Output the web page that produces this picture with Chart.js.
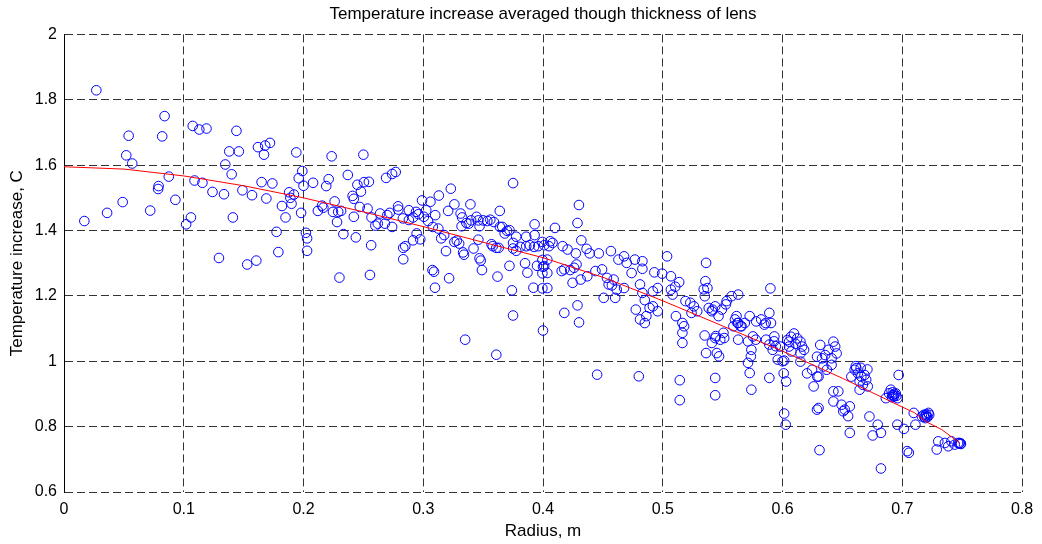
<!DOCTYPE html>
<html>
<head>
<meta charset="utf-8">
<script src="https://cdn.jsdelivr.net/npm/chart.js@4/dist/chart.umd.min.js"></script>
<style>
  body { margin: 0; background: #fff; }
  canvas { display: block; }
</style>
</head>
<body>
<canvas id="lensChart" width="1042" height="544"></canvas>
<script>
// Axis tick labels
const xTickLabels = ['0', '0.1', '0.2', '0.3', '0.4', '0.5', '0.6', '0.7', '0.8'];
const yTickLabels = ['0.6', '0.8', '1', '1.2', '1.4', '1.6', '1.8', '2'];

// Fitted curve (red line)
const fitRadius = [0, 0.05, 0.1, 0.15, 0.2, 0.25, 0.3, 0.35, 0.4, 0.45, 0.5, 0.55, 0.6, 0.65, 0.7, 0.71, 0.72, 0.733, 0.748];
const fitTemp = [1.595, 1.588, 1.567, 1.537, 1.5, 1.457, 1.412, 1.364, 1.317, 1.257, 1.185, 1.108, 1.031, 0.948, 0.86, 0.843, 0.815, 0.791, 0.75];

// Scatter samples: radius (m)
const radius = [
  0.027, 0.084, 0.054, 0.082, 0.1075, 0.113, 0.119, 0.144, 0.052, 0.057, 0.0875, 0.079, 0.0786, 0.093, 0.049, 0.036, 0.017, 0.072, 0.102, 0.106,
  0.109, 0.1156, 0.124, 0.1336, 0.1347, 0.140, 0.138, 0.146, 0.141, 0.149, 0.157, 0.165, 0.174, 0.169, 0.162, 0.167, 0.168, 0.172, 0.194, 0.199,
  0.196, 0.2, 0.188, 0.189, 0.19, 0.192, 0.182, 0.185, 0.198, 0.1775, 0.179, 0.202, 0.203, 0.203, 0.1294, 0.153, 0.1606,
  0.2235, 0.250, 0.208, 0.221, 0.219, 0.237, 0.245, 0.2505, 0.2546, 0.248, 0.241, 0.242, 0.269, 0.274, 0.277,
  0.212, 0.2155, 0.2166, 0.226, 0.2246, 0.229, 0.2314, 0.228, 0.242, 0.247, 0.2535, 0.2568, 0.26, 0.262, 0.264, 0.268, 0.270, 0.272, 0.274, 0.279,
  0.2792, 0.283, 0.288, 0.288, 0.2915, 0.294, 0.296, 0.299, 0.306, 0.313, 0.323,
  0.3025, 0.3005, 0.304, 0.308, 0.310, 0.3126, 0.3175, 0.315, 0.3208, 0.326, 0.3312, 0.3325, 0.332, 0.3394, 0.336, 0.338, 0.340, 0.3445, 0.346, 0.350,
  0.3535, 0.356, 0.347, 0.359, 0.3639, 0.364, 0.366, 0.368, 0.370, 0.372, 0.375, 0.3776, 0.375, 0.386, 0.393, 0.393, 0.3995, 0.401, 0.381, 0.386,
  0.389, 0.3925, 0.396, 0.3776, 0.375, 0.361, 0.363, 0.357, 0.358, 0.372, 0.385, 0.387, 0.395, 0.3995, 0.4, 0.3995, 0.392, 0.3995, 0.374, 0.362,
  0.375, 0.4, 0.335, 0.361,
  0.2333, 0.2437, 0.2565, 0.23, 0.2555, 0.2833, 0.285, 0.2833, 0.2915, 0.2945, 0.2975, 0.3077, 0.309, 0.3098, 0.3216, 0.319, 0.326, 0.328, 0.330, 0.3333,
  0.334, 0.342, 0.346, 0.347, 0.348, 0.349,
  0.430, 0.4288, 0.410, 0.406, 0.405, 0.408, 0.4164, 0.4205, 0.4274, 0.432, 0.4364, 0.439, 0.4466, 0.4567, 0.4036, 0.401, 0.4036, 0.4156, 0.4178, 0.4227,
  0.426, 0.428, 0.4247, 0.4315, 0.437, 0.4438, 0.4036, 0.4493, 0.4534, 0.4548, 0.4575, 0.4616, 0.459, 0.4507, 0.4603, 0.463, 0.4677, 0.4699, 0.474, 0.4767,
  0.483, 0.483, 0.4677, 0.481, 0.483, 0.485, 0.493, 0.4995, 0.5036, 0.4775, 0.481, 0.485, 0.4863, 0.489, 0.4918, 0.4958, 0.4918, 0.4958, 0.5068, 0.5104,
  0.5137, 0.5068, 0.5082, 0.511, 0.5164, 0.5178, 0.5164, 0.5164, 0.519, 0.523, 0.526, 0.524, 0.5288, 0.5342, 0.5356, 0.5362, 0.5373, 0.5351, 0.5384, 0.541,
  0.5438, 0.5466, 0.5493, 0.5534, 0.5575, 0.563, 0.535, 0.541, 0.5438, 0.548, 0.5507, 0.5452, 0.5362, 0.5603, 0.563, 0.559, 0.5658, 0.5616, 0.5685, 0.5726,
  0.578, 0.5822, 0.5849, 0.589, 0.5904, 0.563, 0.5712, 0.5753, 0.574, 0.5712, 0.5726, 0.574, 0.5863, 0.589, 0.5932, 0.5918, 0.589, 0.5899, 0.596, 0.6,
  0.4452, 0.48, 0.5142, 0.5142, 0.5438, 0.5438, 0.4178, 0.4288, 0.4301,
  0.5443, 0.5513, 0.547, 0.5777, 0.593, 0.5944, 0.5736, 0.5416, 0.5527, 0.5624, 0.565, 0.586, 0.598,
  0.6014, 0.601, 0.603, 0.604, 0.607, 0.6096, 0.6123, 0.615, 0.6164, 0.618, 0.615, 0.615, 0.6055, 0.611, 0.6055, 0.6074,
  0.6315, 0.6288, 0.633, 0.6356, 0.6384, 0.641, 0.6425, 0.644, 0.6452, 0.641,
  0.6205, 0.6247, 0.629, 0.626, 0.6301, 0.637, 0.6342,
  0.6603, 0.663, 0.6658, 0.6685, 0.6699, 0.6644, 0.6671, 0.6712, 0.6644, 0.6575, 0.6616, 0.6612, 0.6653, 0.6709,
  0.6425, 0.6466, 0.6425, 0.6493, 0.652, 0.6562, 0.6548, 0.6507,
  0.6288, 0.6301, 0.6014, 0.6027, 0.6309,
  0.6562, 0.6726, 0.6753, 0.6795, 0.6822, 0.6822,
  0.689, 0.6918, 0.693, 0.6945, 0.6904, 0.696, 0.6863, 0.697, 0.6925, 0.6935, 0.6915, 0.695, 0.692,
  0.6959, 0.7014, 0.7041, 0.7055, 0.711, 0.7096,
  0.718, 0.7205, 0.7192, 0.7219, 0.7164, 0.7195, 0.721, 0.7185, 0.7225, 0.72,
  0.7288, 0.7301, 0.7356, 0.7384, 0.741, 0.7438, 0.7466, 0.7488, 0.7475, 0.749, 0.748
];

// Scatter samples: temperature increase (C), same order as radius
const tempIncrease = [
  1.829, 1.75, 1.69, 1.688, 1.72, 1.709, 1.712, 1.705, 1.63, 1.605, 1.565, 1.536, 1.527, 1.494, 1.487, 1.454, 1.429, 1.461, 1.419, 1.44,
  1.553, 1.546, 1.518, 1.511, 1.602, 1.572, 1.642, 1.642, 1.44, 1.523, 1.508, 1.548, 1.544, 1.498, 1.655, 1.632, 1.66, 1.668, 1.639, 1.582,
  1.56, 1.537, 1.517, 1.5, 1.482, 1.51, 1.475, 1.44, 1.454, 1.396, 1.334, 1.393, 1.376, 1.338, 1.316, 1.296, 1.308,
  1.627, 1.632, 1.546, 1.557, 1.536, 1.57, 1.54, 1.548, 1.549, 1.519, 1.506, 1.497, 1.561, 1.573, 1.579,
  1.46, 1.476, 1.47, 1.489, 1.457, 1.457, 1.46, 1.426, 1.442, 1.472, 1.467, 1.44, 1.415, 1.421, 1.452, 1.421, 1.447, 1.454, 1.411, 1.474,
  1.464, 1.437, 1.462, 1.432, 1.44, 1.457, 1.45, 1.492, 1.488, 1.507, 1.528,
  1.462, 1.442, 1.429, 1.411, 1.447, 1.406, 1.386, 1.376, 1.46, 1.48, 1.452, 1.44, 1.413, 1.48, 1.423, 1.421, 1.431, 1.442, 1.431, 1.431,
  1.429, 1.433, 1.413, 1.426, 1.46, 1.411, 1.411, 1.391, 1.399, 1.401, 1.545, 1.381, 1.362, 1.381, 1.419, 1.386, 1.365, 1.355, 1.35, 1.352,
  1.355, 1.35, 1.352, 1.338, 1.345, 1.347, 1.347, 1.358, 1.352, 1.292, 1.3, 1.271, 1.292, 1.31, 1.289, 1.269, 1.225, 1.223, 1.217, 1.259,
  1.14, 1.094, 1.066, 1.02,
  1.389, 1.379, 1.355, 1.256, 1.264, 1.347, 1.352, 1.312, 1.37, 1.391, 1.373, 1.279, 1.274, 1.225, 1.254, 1.337, 1.365, 1.369, 1.36, 1.333,
  1.326, 1.345, 1.372, 1.315, 1.308, 1.279,
  1.478, 1.423, 1.408, 1.367, 1.352, 1.362, 1.352, 1.342, 1.33, 1.37, 1.344, 1.33, 1.33, 1.337, 1.311, 1.291, 1.27, 1.276, 1.281, 1.279,
  1.286, 1.296, 1.24, 1.25, 1.26, 1.276, 1.224, 1.281, 1.255, 1.235, 1.232, 1.219, 1.25, 1.194, 1.194, 1.311, 1.321, 1.301, 1.27, 1.311,
  1.306, 1.283, 1.224, 1.235, 1.209, 1.187, 1.272, 1.268, 1.321, 1.158, 1.128, 1.117, 1.138, 1.163, 1.168, 1.153, 1.214, 1.224, 1.26, 1.228,
  1.242, 1.219, 1.204, 1.138, 1.117, 1.107, 1.087, 1.056, 1.184, 1.179, 1.168, 1.148, 1.153, 1.22, 1.245, 1.301, 1.224, 1.199, 1.163, 1.153,
  1.168, 1.138, 1.158, 1.184, 1.199, 1.204, 1.079, 1.056, 1.071, 1.066, 1.087, 1.025, 1.025, 1.128, 1.117, 1.107, 1.107, 1.138, 1.117, 1.138,
  1.122, 1.128, 1.112, 1.148, 1.117, 1.066, 1.061, 1.076, 1.035, 0.995, 0.964, 0.913, 1.066, 1.051, 1.076, 1.035, 0.949, 1.223, 1.005, 1.0,
  0.959, 0.954, 0.942, 0.881, 0.949, 0.896, 1.148, 1.171, 1.119,
  1.077, 1.071, 1.015, 1.066, 1.061, 1.046, 1.015, 1.158, 1.174, 1.117, 1.107, 1.117, 1.045,
  1.002, 0.963, 0.938, 1.065, 1.075, 1.085, 1.07, 1.06, 1.045, 1.035, 1.024, 0.999, 1.06, 1.053, 1.045, 1.03,
  1.05, 1.014, 1.009, 1.019, 1.035, 1.009, 1.06, 1.045, 1.024, 0.989,
  0.963, 0.974, 0.953, 0.923, 0.953, 0.974, 0.984,
  0.974, 0.963, 0.953, 0.958, 0.943, 0.938, 0.928, 0.923, 0.913, 0.953, 0.979, 0.985, 0.98, 0.975,
  0.908, 0.908, 0.877, 0.867, 0.852, 0.862, 0.832, 0.847,
  0.852, 0.857, 0.84, 0.806, 0.728,
  0.781, 0.831, 0.773, 0.806, 0.781, 0.672,
  0.902, 0.897, 0.892, 0.902, 0.913, 0.887, 0.887, 0.958, 0.895, 0.9, 0.89, 0.894, 0.905,
  0.806, 0.793, 0.725, 0.72, 0.806, 0.842,
  0.836, 0.831, 0.826, 0.842, 0.831, 0.834, 0.829, 0.83, 0.836, 0.838,
  0.73, 0.755, 0.75, 0.74, 0.755, 0.745, 0.75, 0.748, 0.749, 0.747, 0.75
];

const FONT = "'Liberation Sans', Arial, Helvetica, sans-serif";

const samplePoints = radius.map((r, i) => ({ x: r, y: tempIncrease[i] }));
const fitPoints = fitRadius.map((r, i) => ({ x: r, y: fitTemp[i] }));

const ctx = document.getElementById('lensChart').getContext('2d');

new Chart(ctx, {
    type: 'scatter',
    data: {
        datasets: [
            {
                label: 'Fit',
                data: fitPoints,
                showLine: true,
                borderColor: '#ff0000',
                borderWidth: 1,
                pointRadius: 0,
                fill: false,
                tension: 0
            },
            {
                label: 'Samples',
                data: samplePoints,
                pointStyle: 'circle',
                pointRadius: 4.8,
                pointBorderWidth: 1,
                pointBorderColor: '#0000ff',
                pointBackgroundColor: 'rgba(0,0,0,0)'
            }
        ]
    },
    options: {
        responsive: false,
        animation: false,
        layout: {
            padding: { left: 0, right: 20, top: 0, bottom: 0 }
        },
        plugins: {
            legend: { display: false },
            tooltip: { enabled: false },
            title: {
                display: true,
                fullSize: false,
                text: 'Temperature increase averaged though thickness of lens',
                color: '#000',
                font: { family: FONT, size: 17, weight: 'normal' },
                padding: { top: 4, bottom: 10 }
            }
        },
        scales: {
            x: {
                type: 'linear',
                min: 0,
                max: 0.8,
                afterFit: (scale) => { scale.height = 52; },
                ticks: {
                    stepSize: 0.1,
                    color: '#000',
                    padding: 8,
                    maxRotation: 0,
                    font: { family: FONT, size: 16 },
                    callback: (value, index) => xTickLabels[index]
                },
                grid: {
                    color: '#333',
                    lineWidth: 1,
                    drawTicks: false
                },
                border: { display: false, dash: [8, 4] },
                title: {
                    display: true,
                    text: 'Radius, m',
                    color: '#000',
                    font: { family: FONT, size: 17 },
                    padding: { top: 0, bottom: 2 }
                }
            },
            y: {
                type: 'linear',
                min: 0.6,
                max: 2,
                afterFit: (scale) => { scale.width = 64; },
                ticks: {
                    stepSize: 0.2,
                    color: '#000',
                    padding: 7,
                    font: { family: FONT, size: 16 },
                    callback: (value, index) => yTickLabels[index]
                },
                grid: {
                    color: '#333',
                    lineWidth: 1,
                    drawTicks: false
                },
                border: { display: true, color: '#000', width: 1, dash: [8, 4] },
                title: {
                    display: true,
                    text: 'Temperature increase, C',
                    color: '#000',
                    font: { family: FONT, size: 17 },
                    padding: { top: 7, bottom: 0 }
                }
            }
        }
    }
});
</script>
</body>
</html>
